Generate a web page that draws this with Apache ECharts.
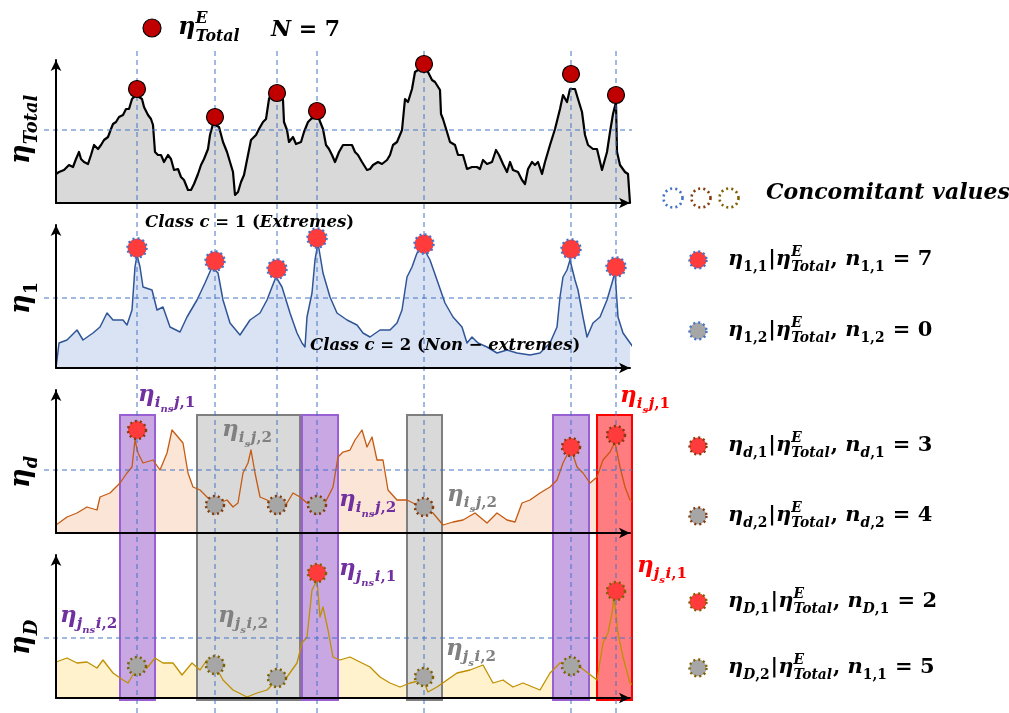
<!DOCTYPE html>
<html>
<head>
<meta charset="utf-8">
<script src="https://cdn.jsdelivr.net/npm/echarts@6/dist/echarts.min.js"></script>
<style>
  html, body { margin: 0; padding: 0; background: #ffffff; }
  #chart { width: 1009px; height: 713px; }
</style>
</head>
<body>
<div id="chart"></div>
<script>
// ---------- data: [time index, level] of each signal ----------
const totalSeries = [
  [0,29],[3,31],[8,33],[13,38],[17,36],[20,44],[23,51],[25,44],[28,41],[32,39],[35,48],[38,58],[42,54],[45,58],
  [48,63],[52,66],[55,74],[57,79],[60,81],[63,86],[67,88],[70,94],[73,94],[76,104],[78,106],[81,109],[83,106],
  [86,104],[88,96],[92,88],[95,84],[97,78],[99,51],[102,48],[105,48],[108,41],[112,48],[115,44],[118,33],[122,34],
  [125,26],[128,23],[132,13],[135,13],[138,19],[142,29],[145,38],[148,44],[152,54],[154,68],[157,79],[159,79],
  [163,76],[167,61],[171,51],[174,41],[177,31],[179,8],[182,11],[185,21],[188,28],[192,48],[195,63],[200,68],
  [203,74],[207,81],[210,84],[213,104],[215,109],[220,111],[223,108],[227,103],[228,81],[231,73],[233,61],[237,66],
  [240,59],[245,61],[248,71],[252,81],[255,84],[258,86],[263,84],[267,74],[270,58],[273,54],[276,48],[279,41],
  [283,51],[287,58],[292,58],[296,58],[299,51],[302,48],[306,41],[311,33],[314,34],[317,38],[322,41],[326,39],
  [331,43],[334,48],[337,58],[341,61],[343,59],[346,73],[349,104],[352,101],[356,114],[359,131],[362,133],[366,134],
  [371,133],[376,123],[379,121],[384,113],[385,89],[387,84],[391,71],[394,61],[399,58],[402,48],[407,48],[411,34],
  [416,36],[421,36],[424,34],[427,43],[431,39],[436,41],[440,53],[443,48],[447,39],[451,31],[454,41],[457,33],
  [462,31],[466,23],[469,19],[472,34],[476,41],[479,38],[482,41],[486,29],[489,41],[494,58],[499,74],[504,94],
  [507,108],[511,101],[514,114],[519,114],[522,104],[526,91],[529,68],[532,58],[537,54],[541,54],[546,33],[551,51],
  [554,71],[557,89],[560,101],[561,51],[564,38],[569,31],[572,29],[574,28],[574,0]
];

const c1T = [0,3,11,21,27,37,44,51,57,67,71,76,79,81,84,87,96,101,107,114,124,131,141,149,156,162,167,174,184,194,204,211,216,220,226,234,241,246,249,251,256,259,262,267,274,281,291,301,307,314,324,334,341,346,351,356,361,367,374,381,389,397,406,411,416,422,431,441,451,461,474,484,494,501,504,507,511,514,519,522,527,531,537,544,551,556,559,562,567,577,587,596];
const c1H = [0,25,28,38,28,35,41,55,48,48,43,58,101,113,101,81,78,58,61,41,36,51,68,85,101,95,68,45,33,48,55,68,81,91,81,55,35,25,21,51,75,108,125,95,71,55,48,43,35,31,38,38,45,58,91,101,115,121,108,88,65,51,41,25,31,25,21,15,18,15,13,15,25,41,71,91,98,108,88,78,51,31,45,51,68,85,96,51,35,21,11,0];

const dT = [0,1,11,21,31,41,44,54,64,71,76,79,82,87,97,104,111,116,122,127,132,137,144,151,159,171,177,182,187,192,195,199,204,211,221,231,237,244,251,261,269,277,282,287,294,299,306,311,316,321,327,332,341,351,357,367,377,387,397,407,419,431,441,451,459,466,474,484,494,501,507,511,516,521,527,534,541,547,554,559,564,569,574,579,584];
const dH = [8,10,16,20,26,23,36,40,50,60,66,93,80,70,73,63,80,103,96,90,60,46,43,36,28,33,26,30,60,70,83,60,36,33,28,30,40,36,30,28,30,46,76,81,83,93,103,86,96,73,73,43,33,33,30,25,20,8,11,13,20,10,20,13,11,30,33,40,46,53,70,78,81,66,60,50,56,73,81,91,66,46,33,30,1];

const DT = [0,11,21,31,41,47,57,67,72,81,91,99,107,117,126,136,144,151,159,167,177,191,201,211,221,231,241,246,251,256,261,264,267,272,277,284,294,304,314,324,334,344,354,367,372,381,391,401,414,427,437,447,457,467,484,494,504,514,524,532,541,547,552,556,558,562,567,574,581,589];
const DH = [36,40,35,36,30,38,25,18,15,30,30,40,35,35,23,35,28,38,33,18,8,1,5,8,18,21,35,55,61,108,118,81,91,68,41,38,41,36,31,21,15,11,15,18,6,11,18,25,28,33,15,18,11,15,8,25,35,35,31,25,18,55,65,85,101,65,41,15,11,0];

// instants where the total reaches an extreme (N = 7)
const eventT = [81, 159, 221, 261, 368, 515, 560];
const totalPeakH = [114, 86, 110, 92, 139, 129, 108];
const c1PeakH = [120, 107, 99, 130, 124, 119, 101];
const dEventH = [103, 28, 28, 28, 26, 86, 98];
const dEventClass = [1, 2, 2, 2, 2, 1, 1];
const DEventH = [32, 33, 20, 125, 21, 32, 107];
const DEventClass = [2, 2, 2, 1, 2, 2, 1];

// extreme thresholds of each panel
const thresholds = [73, 70, 63, 60];

// windows around the events (purple: non-simultaneous, gray / red: simultaneous)
const windowFrom = [64, 141, 246, 351, 497, 541];
const windowTo = [99, 244, 282, 386, 533, 576];
const windowKind = ['ns', 'sGray', 'ns', 'sGray', 'ns', 'sRed'];
const windowLow = 13, windowHigh = 298;

// ---------- look ----------
const X_MAX = 574, Y_MAX = 143;
const gridTops = [60, 225, 390, 555];
const fills = ['#d9d9d9', '#dae3f3', '#fbe5d6', '#fff2cc'];
const strokes = ['#000000', '#2f5597', '#c55a11', '#bf9000'];
const strokeW = [2.2, 1.5, 1.3, 1.3];
const dotColors = ['#4472c4', '#843c0c', '#7f6000'];
const RED = '#ff3b3b', GRAY = '#a6a6a6', DARKRED = '#c00000';
const BLUE_DASH = '#4472c4';
const kindStyle = {
  ns: { fill: '#c8a7e3', stroke: '#9a5fd3' },
  sGray: { fill: '#d9d9d9', stroke: '#7f7f7f' },
  sRed: { fill: '#ff7c80', stroke: '#ff0000' }
};
const TEXT_Z = 50;

const zip = (a, b) => a.map((v, i) => [v, b[i]]);

// ---------- small math-text typesetter built from graphic text pieces ----------
const MATH_FAMILY = "'DejaVu Serif', serif";
const measureCtx = document.createElement('canvas').getContext('2d');
function fontOf(size, italic) { return (italic ? 'italic ' : '') + 'bold ' + size + 'px ' + MATH_FAMILY; }
function widthOf(t, size, italic) { measureCtx.font = fontOf(size, italic); return measureCtx.measureText(t).width; }
function splitRuns(str) {
  const out = []; let cur = '', curIt = null;
  for (const ch of str) {
    const it = /[A-Za-zη]/.test(ch);
    if (curIt === null || it === curIt) { cur += ch; curIt = it; }
    else { out.push([cur, curIt]); cur = ch; curIt = it; }
  }
  if (cur) out.push([cur, curIt]);
  return out;
}
function typeset(spec, size, x, base, color, els) {
  let cx = x;
  for (const item of spec) {
    if (typeof item === 'string') {
      for (const [t, it] of splitRuns(item)) {
        els.push({
          type: 'text', x: cx, y: base - 0.32 * size, silent: true, z: TEXT_Z,
          style: { text: t, font: fontOf(size, it), fill: color, textAlign: 'left', textVerticalAlign: 'middle', align: 'left', verticalAlign: 'middle' }
        });
        cx += widthOf(t, size, it);
      }
    } else {
      const s2 = size * 0.66;
      let w = 0;
      if (item.sub) w = Math.max(w, typeset(item.sub, s2, cx, base + size * 0.27, color, els));
      if (item.sup) w = Math.max(w, typeset(item.sup, s2, cx, base - size * 0.45, color, els));
      cx += w + size * 0.04;
    }
  }
  return cx - x;
}
function mathText(x, y, spec, size, color, rotation) {
  const children = [];
  typeset(spec, size, 0, 0, color, children);
  return { type: 'group', x, y, rotation: rotation || 0, children, z: TEXT_Z };
}

const ETOTAL = { sup: ['E'], sub: ['Total'] };
const PURPLE = '#7030a0', LABEL_GRAY = '#808080', LABEL_RED = '#ff0000';
const CAP = 23;

const graphics = [
  // top key
  { type: 'circle', shape: { cx: 152, cy: 28, r: 9 }, style: { fill: DARKRED, stroke: '#000', lineWidth: 1.2 }, z: TEXT_Z },
  mathText(178, 35, ['η', ETOTAL], 24, '#000'),
  mathText(271, 37, ['N = 7'], 22, '#000'),
  // rotated panel titles
  mathText(31, 164, ['η', { sub: ['Total'] }], 27, '#000', Math.PI / 2),
  mathText(31, 314, ['η', { sub: ['1'] }], 27, '#000', Math.PI / 2),
  mathText(31, 488, ['η', { sub: ['d'] }], 27, '#000', Math.PI / 2),
  mathText(31, 655, ['η', { sub: ['D'] }], 27, '#000', Math.PI / 2),
  // class captions
  mathText(145, 228, ['Class c = 1 (Extremes)'], 16.5, '#000'),
  mathText(310, 351, ['Class c = 2 (Non − extremes)'], 16.5, '#000'),
  // window captions
  mathText(138, 402, ['η', { sub: ['i', { sub: ['ns'] }, 'j,1'] }], CAP, PURPLE),
  mathText(222, 437, ['η', { sub: ['i', { sub: ['s'] }, 'j,2'] }], CAP, LABEL_GRAY),
  mathText(339, 507, ['η', { sub: ['i', { sub: ['ns'] }, 'j,2'] }], CAP, PURPLE),
  mathText(447, 502, ['η', { sub: ['i', { sub: ['s'] }, 'j,2'] }], CAP, LABEL_GRAY),
  mathText(620, 403, ['η', { sub: ['i', { sub: ['s'] }, 'j,1'] }], CAP, LABEL_RED),
  mathText(60, 623, ['η', { sub: ['j', { sub: ['ns'] }, 'i,2'] }], CAP, PURPLE),
  mathText(218, 623, ['η', { sub: ['j', { sub: ['s'] }, 'i,2'] }], CAP, LABEL_GRAY),
  mathText(339, 576, ['η', { sub: ['j', { sub: ['ns'] }, 'i,1'] }], CAP, PURPLE),
  mathText(446, 656, ['η', { sub: ['j', { sub: ['s'] }, 'i,2'] }], CAP, LABEL_GRAY),
  mathText(637, 573, ['η', { sub: ['j', { sub: ['s'] }, 'i,1'] }], CAP, LABEL_RED),
  // right-hand key
  mathText(766, 200, ['Concomitant values'], 22, '#000')
];
[673, 701, 729].forEach((cx, i) => graphics.push({
  type: 'circle', shape: { cx, cy: 198, r: 9.5 }, z: TEXT_Z,
  style: { fill: 'none', stroke: dotColors[i], lineWidth: 2.6, lineDash: [2, 3.2] }
}));
const keyRows = [
  { y: 260, fill: RED, dot: dotColors[0], spec: ['η', { sub: ['1,1'] }, '|η', ETOTAL, ', n', { sub: ['1,1'] }, ' = 7'] },
  { y: 331, fill: GRAY, dot: dotColors[0], spec: ['η', { sub: ['1,2'] }, '|η', ETOTAL, ', n', { sub: ['1,2'] }, ' = 0'] },
  { y: 446, fill: RED, dot: dotColors[1], spec: ['η', { sub: ['d,1'] }, '|η', ETOTAL, ', n', { sub: ['d,1'] }, ' = 3'] },
  { y: 516, fill: GRAY, dot: dotColors[1], spec: ['η', { sub: ['d,2'] }, '|η', ETOTAL, ', n', { sub: ['d,2'] }, ' = 4'] },
  { y: 602, fill: RED, dot: dotColors[2], spec: ['η', { sub: ['D,1'] }, '|η', ETOTAL, ', n', { sub: ['D,1'] }, ' = 2'] },
  { y: 668, fill: GRAY, dot: dotColors[2], spec: ['η', { sub: ['D,2'] }, '|η', ETOTAL, ', n', { sub: ['1,1'] }, ' = 5'] }
];
keyRows.forEach(r => {
  graphics.push({ type: 'circle', shape: { cx: 698, cy: r.y, r: 8.5 }, z: TEXT_Z, style: { fill: r.fill, stroke: r.dot, lineWidth: 2.4, lineDash: [2, 3] } });
  graphics.push(mathText(728, r.y + 6, r.spec, 21, '#000'));
});

// ---------- grids / axes ----------
const grids = gridTops.map(top => ({ left: 56, top, width: 574, height: Y_MAX }));
grids.push({ left: 56, top: 50, width: 574, height: 663 }); // overlay spanning the lower panels

const axisLine = { show: true, symbol: ['none', 'arrow'], symbolSize: [8, 11], lineStyle: { color: '#000', width: 2 } };
const xAxes = gridTops.map((_, i) => ({
  gridIndex: i, type: 'value', min: 0, max: X_MAX, z: 10,
  axisLine, axisTick: { show: false }, axisLabel: { show: false }, splitLine: { show: false }
}));
xAxes.push({ gridIndex: 4, type: 'value', min: 0, max: X_MAX, show: false });
const yAxes = gridTops.map((_, i) => ({
  gridIndex: i, type: 'value', min: 0, max: Y_MAX, z: 10,
  axisLine, axisTick: { show: false }, axisLabel: { show: false }, splitLine: { show: false }
}));
yAxes.push({ gridIndex: 4, type: 'value', min: 0, max: 663, show: false });

// ---------- series ----------
const signals = [totalSeries, zip(c1T, c1H), zip(dT, dH), zip(DT, DH)];
const series = [];
signals.forEach((data, i) => {
  series.push({
    type: 'line', xAxisIndex: i, yAxisIndex: i, data, symbol: 'none', clip: false, silent: true, z: 1,
    lineStyle: { width: 0, opacity: 0 }, areaStyle: { color: fills[i], opacity: 1 }
  });
  series.push({
    type: 'line', xAxisIndex: i, yAxisIndex: i, data, symbol: 'none', clip: false, silent: true, z: 4,
    lineStyle: { color: strokes[i], width: strokeW[i], join: 'round' }
  });
  // horizontal extreme threshold
  series.push({
    type: 'custom', xAxisIndex: i, yAxisIndex: i, clip: false, silent: true, z: 6,
    data: [[-12, X_MAX + 2, thresholds[i]]],
    renderItem: (p, api) => {
      const a = api.coord([api.value(0), api.value(2)]);
      const b = api.coord([api.value(1), api.value(2)]);
      return { type: 'line', shape: { x1: a[0], y1: a[1], x2: b[0], y2: b[1] }, style: { stroke: BLUE_DASH, lineWidth: 1, lineDash: [5, 4] } };
    }
  });
});

// windows and event instants on the overlay
series.push({
  type: 'custom', xAxisIndex: 4, yAxisIndex: 4, clip: false, silent: true, z: 3,
  data: windowFrom.map((f, i) => [f, windowTo[i], windowLow, windowHigh, i]),
  renderItem: (p, api) => {
    const a = api.coord([api.value(0), api.value(3)]);
    const b = api.coord([api.value(1), api.value(2)]);
    const st = kindStyle[windowKind[api.value(4)]];
    return { type: 'rect', shape: { x: a[0], y: a[1], width: b[0] - a[0], height: b[1] - a[1] }, style: { fill: st.fill, stroke: st.stroke, lineWidth: 2 } };
  }
});
series.push({
  type: 'custom', xAxisIndex: 4, yAxisIndex: 4, clip: false, silent: true, z: 5,
  data: eventT.map(t => [t]),
  renderItem: (p, api) => {
    const a = api.coord([api.value(0), 0]);
    const b = api.coord([api.value(0), 663]);
    return { type: 'line', shape: { x1: a[0], y1: a[1], x2: b[0], y2: b[1] }, style: { stroke: BLUE_DASH, lineWidth: 1, lineDash: [5, 4] } };
  }
});

// event markers
series.push({
  type: 'scatter', xAxisIndex: 0, yAxisIndex: 0, clip: false, silent: true, z: 8,
  data: zip(eventT, totalPeakH), symbolSize: 17,
  itemStyle: { color: DARKRED, borderColor: '#000', borderWidth: 1.2, opacity: 1 }
});
series.push({
  type: 'scatter', xAxisIndex: 1, yAxisIndex: 1, clip: false, silent: true, z: 8,
  data: zip(eventT, c1PeakH), symbolSize: 19,
  itemStyle: { color: RED, borderColor: dotColors[0], borderWidth: 2.5, borderType: [2, 3], opacity: 1 }
});
const classMarks = (vals, classes, axis, dot) => ({
  type: 'scatter', xAxisIndex: axis, yAxisIndex: axis, clip: false, silent: true, z: 8,
  data: eventT.map((t, i) => ({ value: [t, vals[i]], itemStyle: { color: classes[i] === 1 ? RED : GRAY } })),
  symbolSize: 18,
  itemStyle: { borderColor: dot, borderWidth: 2.5, borderType: [2, 3], opacity: 1 }
});
series.push(classMarks(dEventH, dEventClass, 2, dotColors[1]));
series.push(classMarks(DEventH, DEventClass, 3, dotColors[2]));

const chart = echarts.init(document.getElementById('chart'), null, { renderer: 'canvas' });
chart.setOption({
  animation: false,
  backgroundColor: '#ffffff',
  grid: grids, xAxis: xAxes, yAxis: yAxes,
  series,
  graphic: { elements: graphics }
});
</script>
</body>
</html>
